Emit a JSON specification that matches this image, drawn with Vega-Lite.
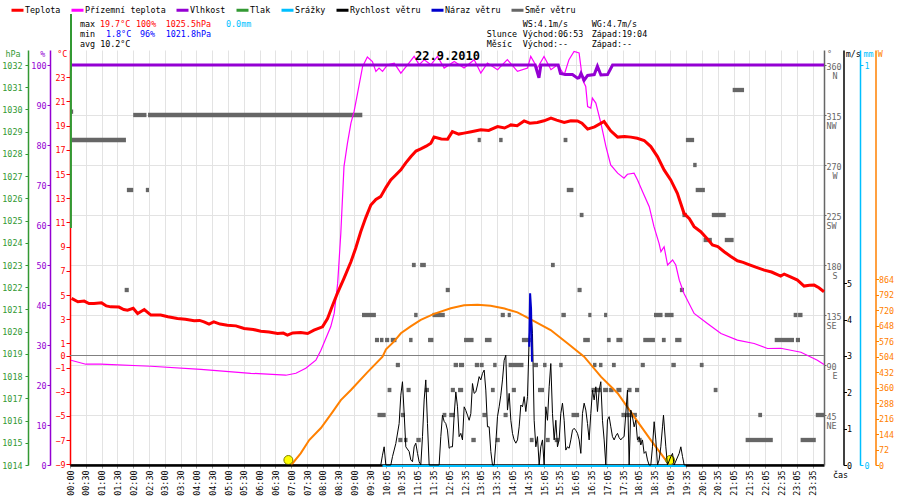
{
  "$schema": "https://vega.github.io/schema/vega-lite/v6.json",
  "width": 754,
  "height": 415,
  "autosize": "none",
  "padding": {"left": 70, "top": 50, "right": 76, "bottom": 35},
  "background": "white",
  "datasets": {
    "temp": [
      {"h":0.05,"t":4.72},{"h":0.25,"t":4.44},{"h":0.45,"t":4.5},{"h":0.6,"t":4.3},{"h":0.76,"t":4.3},{"h":1.0,"t":4.35},{"h":1.15,"t":4.1},{"h":1.29,"t":4.02},{"h":1.55,"t":4.0},{"h":1.7,"t":3.8},{"h":1.82,"t":3.75},{"h":2.0,"t":3.9},{"h":2.14,"t":3.47},{"h":2.35,"t":3.8},{"h":2.56,"t":3.34},{"h":2.87,"t":3.34},{"h":3.1,"t":3.2},{"h":3.4,"t":3.06},{"h":3.65,"t":3.0},{"h":3.93,"t":2.87},{"h":4.1,"t":2.9},{"h":4.24,"t":2.78},{"h":4.4,"t":2.59},{"h":4.55,"t":2.78},{"h":4.75,"t":2.6},{"h":4.98,"t":2.5},{"h":5.25,"t":2.45},{"h":5.51,"t":2.23},{"h":5.8,"t":2.15},{"h":6.04,"t":2.01},{"h":6.3,"t":1.95},{"h":6.57,"t":1.82},{"h":6.75,"t":1.85},{"h":6.88,"t":1.68},{"h":7.05,"t":1.87},{"h":7.3,"t":1.9},{"h":7.52,"t":1.82},{"h":7.72,"t":2.09},{"h":7.99,"t":2.37},{"h":8.15,"t":3.06},{"h":8.31,"t":4.16},{"h":8.46,"t":5.13},{"h":8.67,"t":6.37},{"h":8.89,"t":7.75},{"h":9.04,"t":8.86},{"h":9.2,"t":10.23},{"h":9.36,"t":11.4},{"h":9.52,"t":12.44},{"h":9.68,"t":12.9},{"h":9.83,"t":13.13},{"h":10.0,"t":13.9},{"h":10.15,"t":14.51},{"h":10.3,"t":14.9},{"h":10.47,"t":15.34},{"h":10.62,"t":15.9},{"h":10.79,"t":16.44},{"h":10.95,"t":16.9},{"h":11.1,"t":17.08},{"h":11.27,"t":17.3},{"h":11.42,"t":17.55},{"h":11.52,"t":18.05},{"h":11.75,"t":17.9},{"h":11.95,"t":17.88},{"h":12.1,"t":18.5},{"h":12.3,"t":18.3},{"h":12.47,"t":18.38},{"h":12.7,"t":18.5},{"h":13.0,"t":18.65},{"h":13.25,"t":18.6},{"h":13.53,"t":18.92},{"h":13.75,"t":18.8},{"h":13.95,"t":19.06},{"h":14.15,"t":19.0},{"h":14.37,"t":19.39},{"h":14.55,"t":19.2},{"h":14.79,"t":19.26},{"h":15.0,"t":19.4},{"h":15.22,"t":19.62},{"h":15.4,"t":19.45},{"h":15.64,"t":19.26},{"h":15.85,"t":19.4},{"h":16.06,"t":19.39},{"h":16.2,"t":19.2},{"h":16.38,"t":18.71},{"h":16.6,"t":18.9},{"h":16.9,"t":19.34},{"h":17.11,"t":18.57},{"h":17.33,"t":18.05},{"h":17.55,"t":18.1},{"h":17.75,"t":18.05},{"h":17.95,"t":17.95},{"h":18.17,"t":17.77},{"h":18.38,"t":17.27},{"h":18.59,"t":16.44},{"h":18.8,"t":15.34},{"h":19.01,"t":14.51},{"h":19.22,"t":13.41},{"h":19.43,"t":11.75},{"h":19.6,"t":11.3},{"h":19.75,"t":10.65},{"h":19.96,"t":10.23},{"h":20.15,"t":9.7},{"h":20.33,"t":9.13},{"h":20.5,"t":9.0},{"h":20.7,"t":8.58},{"h":20.9,"t":8.2},{"h":21.12,"t":7.83},{"h":21.3,"t":7.7},{"h":21.44,"t":7.56},{"h":21.7,"t":7.3},{"h":21.97,"t":7.06},{"h":22.2,"t":6.9},{"h":22.49,"t":6.56},{"h":22.6,"t":6.73},{"h":22.8,"t":6.5},{"h":23.02,"t":6.23},{"h":23.23,"t":5.74},{"h":23.4,"t":5.8},{"h":23.55,"t":5.82},{"h":23.7,"t":5.6},{"h":23.86,"t":5.27}
    ],
    "ground": [
      {"h":0.03,"t":-0.39},{"h":0.5,"t":-0.72},{"h":0.97,"t":-0.72},{"h":2.56,"t":-0.89},{"h":4.14,"t":-1.14},{"h":5.72,"t":-1.47},{"h":6.83,"t":-1.63},{"h":7.15,"t":-1.47},{"h":7.46,"t":-1.05},{"h":7.78,"t":-0.39},{"h":7.94,"t":0.44},{"h":8.25,"t":2.37},{"h":8.36,"t":3.48},{"h":8.47,"t":5.96},{"h":8.57,"t":10.1},{"h":8.67,"t":15.61},{"h":8.78,"t":17.55},{"h":8.89,"t":19.2},{"h":8.99,"t":20.17},{"h":9.1,"t":21.69},{"h":9.26,"t":23.89},{"h":9.41,"t":24.67},{"h":9.57,"t":24.3},{"h":9.68,"t":23.48},{"h":9.78,"t":23.76},{"h":9.89,"t":23.48},{"h":10.05,"t":24.03},{"h":10.26,"t":24.17},{"h":10.47,"t":23.34},{"h":10.68,"t":24.03},{"h":10.89,"t":24.72},{"h":11.05,"t":24.03},{"h":11.21,"t":24.45},{"h":11.42,"t":24.03},{"h":11.63,"t":24.72},{"h":11.84,"t":23.76},{"h":12.16,"t":24.3},{"h":12.47,"t":23.76},{"h":12.79,"t":24.45},{"h":13.0,"t":23.34},{"h":13.21,"t":24.17},{"h":13.53,"t":23.62},{"h":13.84,"t":24.45},{"h":14.16,"t":23.48},{"h":14.48,"t":23.76},{"h":14.58,"t":24.72},{"h":14.79,"t":23.76},{"h":15.0,"t":24.72},{"h":15.22,"t":23.62},{"h":15.43,"t":24.03},{"h":15.64,"t":23.2},{"h":15.79,"t":24.45},{"h":15.95,"t":25.13},{"h":16.11,"t":25.0},{"h":16.22,"t":22.79},{"h":16.32,"t":22.24},{"h":16.38,"t":20.58},{"h":16.48,"t":20.45},{"h":16.53,"t":21.27},{"h":16.64,"t":20.86},{"h":16.8,"t":19.2},{"h":16.96,"t":17.27},{"h":17.11,"t":15.75},{"h":17.33,"t":15.07},{"h":17.53,"t":14.65},{"h":17.64,"t":14.98},{"h":17.85,"t":15.07},{"h":17.96,"t":14.51},{"h":18.12,"t":13.54},{"h":18.33,"t":12.3},{"h":18.48,"t":10.65},{"h":18.64,"t":9.27},{"h":18.7,"t":8.58},{"h":18.8,"t":8.99},{"h":18.91,"t":7.48},{"h":19.07,"t":7.89},{"h":19.17,"t":7.48},{"h":19.28,"t":6.23},{"h":19.43,"t":5.13},{"h":19.75,"t":3.48},{"h":20.17,"t":2.65},{"h":20.6,"t":1.82},{"h":21.12,"t":1.27},{"h":21.65,"t":0.99},{"h":22.07,"t":0.58},{"h":22.49,"t":0.6},{"h":23.13,"t":0.27},{"h":23.65,"t":-0.39},{"h":23.86,"t":-0.75}
    ],
    "hum": [
      {"h":0,"p":100},{"h":14.72,"p":100},{"h":14.84,"p":96.8},{"h":14.9,"p":100},{"h":15.45,"p":100},{"h":15.52,"p":97.9},{"h":15.68,"p":97.6},{"h":15.9,"p":97.6},{"h":16.06,"p":96.7},{"h":16.11,"p":96.8},{"h":16.17,"p":97.9},{"h":16.27,"p":96.2},{"h":16.38,"p":97.4},{"h":16.59,"p":97.6},{"h":16.69,"p":99.7},{"h":16.8,"p":97.5},{"h":17.01,"p":97.6},{"h":17.17,"p":100},{"h":23.86,"p":100}
    ],
    "press": [{"h":0.03,"hpa":1024.67},{"h":0.031,"hpa":1034.3}],
    "rain": [{"h":9.89,"mm":0},{"h":19.49,"mm":0}],
    "wind": [
      {"h":0,"v":0},{"h":9.835,"v":0},{"h":9.888,"v":0.27},{"h":9.941,"v":0.5},{"h":9.994,"v":0},{"h":10.152,"v":0},{"h":10.205,"v":0.23},{"h":10.31,"v":0.59},{"h":10.416,"v":1.14},{"h":10.468,"v":1.92},{"h":10.521,"v":2.29},{"h":10.574,"v":1.42},{"h":10.627,"v":0.5},{"h":10.732,"v":0.37},{"h":10.785,"v":0.14},{"h":10.838,"v":0.09},{"h":10.89,"v":0.5},{"h":10.943,"v":0.6},{"h":10.996,"v":0.32},{"h":11.048,"v":0.09},{"h":11.101,"v":0},{"h":11.154,"v":0.78},{"h":11.207,"v":1.79},{"h":11.259,"v":2.34},{"h":11.312,"v":1.14},{"h":11.365,"v":0},{"h":11.681,"v":0},{"h":11.734,"v":0.78},{"h":11.787,"v":1.37},{"h":11.84,"v":1.2},{"h":11.892,"v":1.14},{"h":11.945,"v":0.96},{"h":11.998,"v":0.46},{"h":12.05,"v":0.5},{"h":12.103,"v":0.5},{"h":12.156,"v":1.37},{"h":12.209,"v":2.01},{"h":12.262,"v":1.6},{"h":12.314,"v":0.78},{"h":12.367,"v":0.87},{"h":12.42,"v":0.69},{"h":12.473,"v":1.6},{"h":12.525,"v":1.5},{"h":12.578,"v":1.37},{"h":12.631,"v":1.23},{"h":12.684,"v":1.41},{"h":12.736,"v":2.24},{"h":12.789,"v":1.97},{"h":12.842,"v":2.01},{"h":12.895,"v":2.2},{"h":12.947,"v":2.43},{"h":13.0,"v":2.34},{"h":13.053,"v":2.52},{"h":13.106,"v":2.61},{"h":13.158,"v":2.06},{"h":13.211,"v":1.05},{"h":13.264,"v":1.05},{"h":13.317,"v":0.37},{"h":13.369,"v":0},{"h":13.422,"v":0},{"h":13.475,"v":0.6},{"h":13.528,"v":1.33},{"h":13.58,"v":1.6},{"h":13.633,"v":1.92},{"h":13.686,"v":2.34},{"h":13.739,"v":2.88},{"h":13.791,"v":3.02},{"h":13.844,"v":1.51},{"h":13.897,"v":1.97},{"h":13.95,"v":1.23},{"h":14.002,"v":0.87},{"h":14.055,"v":0.69},{"h":14.108,"v":0.6},{"h":14.161,"v":0.69},{"h":14.213,"v":1.05},{"h":14.266,"v":1.65},{"h":14.319,"v":1.6},{"h":14.372,"v":1.88},{"h":14.424,"v":1.47},{"h":14.477,"v":1.88},{"h":14.53,"v":3.48},{"h":14.582,"v":4.26},{"h":14.635,"v":3.62},{"h":14.688,"v":1.23},{"h":14.741,"v":0.5},{"h":14.793,"v":0.78},{"h":14.846,"v":0},{"h":14.899,"v":0.5},{"h":14.952,"v":0.69},{"h":15.004,"v":0},{"h":15.057,"v":1.6},{"h":15.11,"v":1.23},{"h":15.163,"v":2.15},{"h":15.215,"v":2.79},{"h":15.268,"v":1.42},{"h":15.321,"v":0.69},{"h":15.374,"v":1.23},{"h":15.426,"v":0.5},{"h":15.479,"v":0.69},{"h":15.532,"v":1.42},{"h":15.584,"v":1.7},{"h":15.637,"v":1.23},{"h":15.69,"v":0.41},{"h":15.743,"v":0.5},{"h":15.795,"v":0.46},{"h":15.848,"v":0.69},{"h":15.901,"v":0.96},{"h":15.954,"v":1.01},{"h":16.006,"v":0.95},{"h":16.059,"v":0.87},{"h":16.112,"v":0.69},{"h":16.165,"v":0.32},{"h":16.217,"v":1.42},{"h":16.27,"v":1.7},{"h":16.323,"v":1.51},{"h":16.376,"v":1.14},{"h":16.428,"v":0.69},{"h":16.481,"v":1.42},{"h":16.534,"v":2.06},{"h":16.587,"v":1.79},{"h":16.639,"v":2.15},{"h":16.692,"v":1.47},{"h":16.745,"v":2.06},{"h":16.797,"v":2.29},{"h":16.85,"v":1.23},{"h":16.903,"v":0.69},{"h":16.956,"v":0},{"h":17.008,"v":1.24},{"h":17.061,"v":1.33},{"h":17.114,"v":1.05},{"h":17.166,"v":0.78},{"h":17.219,"v":0.69},{"h":17.272,"v":0.8},{"h":17.325,"v":0.87},{"h":17.377,"v":0.75},{"h":17.43,"v":0.69},{"h":17.483,"v":0.75},{"h":17.535,"v":0.78},{"h":17.588,"v":1.42},{"h":17.641,"v":2.06},{"h":17.694,"v":0},{"h":17.746,"v":1.51},{"h":17.799,"v":1.33},{"h":17.852,"v":1.05},{"h":17.905,"v":1.23},{"h":17.957,"v":0.69},{"h":18.01,"v":0.78},{"h":18.063,"v":0.55},{"h":18.116,"v":0.69},{"h":18.168,"v":0.32},{"h":18.221,"v":0.37},{"h":18.274,"v":0.14},{"h":18.327,"v":0},{"h":18.38,"v":0},{"h":18.432,"v":0.5},{"h":18.485,"v":1.19},{"h":18.538,"v":0.69},{"h":18.591,"v":0},{"h":18.643,"v":0.14},{"h":18.696,"v":0.5},{"h":18.749,"v":1.05},{"h":18.781,"v":1.37},{"h":18.855,"v":0.5},{"h":18.907,"v":0},{"h":19.013,"v":0.23},{"h":19.066,"v":0.32},{"h":19.118,"v":0},{"h":19.277,"v":0.32},{"h":19.33,"v":0.5},{"h":19.383,"v":0.23},{"h":19.435,"v":0},{"h":23.86,"v":0}
    ],
    "gust": [{"h":14.53,"v":3.25},{"h":14.56,"v":4.72},{"h":14.59,"v":4.3},{"h":14.62,"v":2.84}],
    "sun": [
      {"h":7.0,"w":0},{"h":7.3,"w":54},{"h":7.57,"w":116},{"h":7.94,"w":172},{"h":8.3,"w":245},{"h":8.57,"w":302},{"h":8.89,"w":349},{"h":9.4,"w":430},{"h":9.89,"w":504},{"h":10.0,"w":538},{"h":10.25,"w":574},{"h":10.47,"w":613},{"h":10.78,"w":645},{"h":11.1,"w":675},{"h":11.52,"w":703},{"h":12.05,"w":729},{"h":12.47,"w":743},{"h":12.9,"w":746},{"h":13.31,"w":741},{"h":13.75,"w":728},{"h":14.16,"w":710},{"h":14.58,"w":678},{"h":15.21,"w":628},{"h":15.75,"w":565},{"h":16.27,"w":504},{"h":16.8,"w":411},{"h":17.33,"w":334},{"h":17.85,"w":225},{"h":18.38,"w":116},{"h":18.91,"w":11},{"h":18.95,"w":0}
    ],
    "sunev": [{"h":6.91,"ev":"Východ"},{"h":18.99,"ev":"Západ"}],
    "dir": [
      {"from":0.0,"to":0.1,"deg":318},{"from":0.05,"to":1.77,"deg":292.5},{"from":1.73,"to":1.86,"deg":157.5},{"from":1.8,"to":2.0,"deg":247.5},{"from":2.0,"to":2.42,"deg":315},{"from":2.4,"to":2.5,"deg":247.5},{"from":2.47,"to":9.25,"deg":315},
      {"from":9.24,"to":9.68,"deg":135},{"from":9.65,"to":9.78,"deg":112.5},{"from":9.81,"to":9.92,"deg":112.5},{"from":9.97,"to":10.1,"deg":112.5},{"from":10.15,"to":10.33,"deg":112.5},{"from":9.73,"to":9.99,"deg":45},{"from":10.05,"to":10.17,"deg":67.5},{"from":10.31,"to":10.44,"deg":90},{"from":10.39,"to":10.52,"deg":22.5},{"from":10.57,"to":10.68,"deg":22.5},{"from":10.47,"to":10.6,"deg":45},{"from":10.65,"to":10.78,"deg":67.5},{"from":10.73,"to":10.84,"deg":112.5},{"from":10.82,"to":10.94,"deg":180},{"from":10.89,"to":11.0,"deg":135},{"from":10.96,"to":11.1,"deg":22.5},{"from":11.08,"to":11.26,"deg":180},{"from":11.23,"to":11.36,"deg":67.5},{"from":11.33,"to":11.5,"deg":112.5},{"from":11.47,"to":11.86,"deg":135},{"from":11.79,"to":11.91,"deg":45},{"from":11.89,"to":12.02,"deg":157.5},{"from":12.0,"to":12.18,"deg":45},{"from":12.05,"to":12.18,"deg":67.5},{"from":12.14,"to":12.28,"deg":90},{"from":12.31,"to":12.47,"deg":90},{"from":12.28,"to":12.44,"deg":67.5},{"from":12.47,"to":12.77,"deg":112.5},{"from":12.7,"to":12.84,"deg":22.5},{"from":12.81,"to":12.95,"deg":90},{"from":12.97,"to":13.09,"deg":90},{"from":12.9,"to":13.0,"deg":292.5},{"from":13.05,"to":13.18,"deg":45},{"from":13.13,"to":13.34,"deg":112.5},{"from":13.32,"to":13.44,"deg":67.5},{"from":13.39,"to":13.5,"deg":90},{"from":13.47,"to":13.6,"deg":22.5},{"from":13.58,"to":13.69,"deg":292.5},{"from":13.63,"to":13.76,"deg":135},{"from":13.72,"to":13.85,"deg":45},{"from":13.85,"to":13.95,"deg":135},{"from":13.88,"to":14.35,"deg":90},{"from":13.98,"to":14.11,"deg":67.5},{"from":14.3,"to":14.58,"deg":112.5},{"from":14.55,"to":14.67,"deg":22.5},{"from":14.67,"to":14.81,"deg":90},{"from":14.81,"to":15.0,"deg":67.5},{"from":14.97,"to":15.08,"deg":90},{"from":15.06,"to":15.18,"deg":22.5},{"from":15.22,"to":15.34,"deg":180},{"from":15.34,"to":15.48,"deg":22.5},{"from":15.48,"to":15.59,"deg":90},{"from":15.55,"to":15.69,"deg":135},{"from":15.62,"to":15.74,"deg":292.5},{"from":15.72,"to":15.93,"deg":247.5},{"from":15.87,"to":16.11,"deg":45},{"from":16.06,"to":16.19,"deg":157.5},{"from":16.13,"to":16.25,"deg":225},{"from":16.24,"to":16.45,"deg":112.5},{"from":16.4,"to":16.5,"deg":135},{"from":16.5,"to":16.8,"deg":67.5},{"from":16.55,"to":16.66,"deg":90},{"from":16.74,"to":16.85,"deg":90},{"from":16.87,"to":17.03,"deg":67.5},{"from":16.9,"to":17.0,"deg":135},{"from":16.99,"to":17.11,"deg":112.5},{"from":17.06,"to":17.2,"deg":67.5},{"from":17.15,"to":17.27,"deg":90},{"from":17.29,"to":17.48,"deg":112.5},{"from":17.29,"to":17.45,"deg":67.5},{"from":17.45,"to":17.8,"deg":45},{"from":17.64,"to":17.77,"deg":67.5},{"from":17.73,"to":17.94,"deg":45},{"from":17.88,"to":18.01,"deg":67.5},{"from":17.96,"to":18.09,"deg":22.5},{"from":18.06,"to":18.19,"deg":90},{"from":18.14,"to":18.51,"deg":112.5},{"from":18.48,"to":18.75,"deg":135},{"from":18.73,"to":18.85,"deg":112.5},{"from":18.82,"to":19.1,"deg":135},{"from":19.03,"to":19.17,"deg":90},{"from":19.15,"to":19.35,"deg":112.5},{"from":19.3,"to":19.43,"deg":157.5},{"from":19.38,"to":19.52,"deg":225},{"from":19.49,"to":19.75,"deg":292.5},{"from":19.72,"to":19.83,"deg":270},{"from":19.8,"to":20.09,"deg":247.5},{"from":19.93,"to":20.05,"deg":90},{"from":20.05,"to":20.31,"deg":202.5},{"from":20.31,"to":20.75,"deg":225},{"from":20.37,"to":20.49,"deg":67.5},{"from":20.72,"to":21.0,"deg":202.5},{"from":20.97,"to":21.33,"deg":337.5},{"from":21.38,"to":22.24,"deg":22.5},{"from":21.78,"to":21.9,"deg":45},{"from":22.3,"to":22.91,"deg":112.5},{"from":22.9,"to":23.02,"deg":135},{"from":22.97,"to":23.1,"deg":112.5},{"from":23.04,"to":23.18,"deg":135},{"from":23.12,"to":23.6,"deg":22.5},{"from":23.6,"to":23.86,"deg":45}
    ]
  },
  "layer": [
    {
      "data": {"name": "dir"},
      "mark": {"type": "rule", "strokeWidth": 4.3, "strokeCap": "butt"},
      "encoding": {
        "x": {
          "field": "from", "type": "quantitative",
          "scale": {"domain": [0, 23.86], "nice": false, "zero": false},
          "axis": {
            "values": [0,0.5,1,1.5,2,2.5,3,3.5,4,4.5,5,5.5,6,6.5,7,7.5,8,8.5,9,9.5,10,10.5,11,11.5,12,12.5,13,13.5,14,14.5,15,15.5,16,16.5,17,17.5,18,18.5,19,19.5,20,20.5,21,21.5,22,22.5,23,23.5],
            "tickCount": 200,
            "labelExpr": "datum.value < 10 ? '0' + floor(datum.value) + ':' + (datum.value % 1 > 0.25 ? '30' : '00') : floor(datum.value) + ':' + (datum.value % 1 > 0.25 ? '35' : '05')",
            "labelAngle": 270, "labelAlign": "right", "labelBaseline": "middle",
            "labelOverlap": false, "labelFlush": false,
            "grid": true, "gridColor": "#e3e3e3",
            "domainColor": "#000000", "domainWidth": 2.5,
            "tickColor": "#999999", "tickSize": 3, "labelPadding": 2, "labelColor": "#000000",
            "title": "čas", "titleX": 770, "titleY": 9, "titleAlign": "center", "titleBaseline": "middle", "titleColor": "#000000"
          }
        },
        "x2": {"field": "to"},
        "y": {
          "field": "deg", "type": "quantitative",
          "scale": {"domain": [0, 373.5], "nice": false, "zero": false},
          "axis": {
            "orient": "right", "offset": 0,
            "values": [45, 90, 135, 180, 225, 270, 315, 360], "tickCount": 200, "format": "d",
            "labelOverlap": false, "labelFlush": false,
            "grid": true, "gridColor": "#e3e3e3",
            "domainColor": "#666666", "tickColor": "#666666", "labelColor": "#666666",
            "tickSize": 2, "labelPadding": 0, "labelAlign": "left", "labelBaseline": "top",
            "labelOffset": -2.5, "labelLineHeight": 9,
            "labelExpr": "[datum.label, datum.value == 360 ? '\u2800N' : datum.value == 315 ? 'NW' : datum.value == 270 ? '\u2800W' : datum.value == 225 ? 'SW' : datum.value == 180 ? '\u2800S' : datum.value == 135 ? 'SE' : datum.value == 90 ? '\u2800E' : 'NE']",
            "title": "°", "titleColor": "#666666", "titleAngle": 0, "titleX": 5, "titleY": 3.5, "titleAlign": "center", "titleBaseline": "middle"
          }
        },
        "color": {
          "datum": "Směr větru", "type": "nominal",
          "scale": {
            "domain": ["Teplota", "Přízemní teplota", "Vlhkost", "Tlak", "Srážky", "Rychlost větru", "Náraz větru", "Směr větru"],
            "range": ["#ff0000", "#ff00ff", "#9400d3", "#339933", "#00bfff", "#000000", "#0000cc", "#666666"]
          },
          "legend": {
            "orient": "none", "legendX": -60, "legendY": -47.5, "direction": "horizontal",
            "title": null, "symbolType": "stroke", "symbolSize": 144, "symbolStrokeWidth": 3,
            "labelFont": "DejaVu Sans Mono", "labelFontSize": 8.4, "labelColor": "#000000",
            "labelOffset": 0, "columnPadding": 4, "padding": 0
          }
        }
      }
    },
    {
      "layer": [
        {
          "data": {"values": [{}]},
          "mark": {"type": "rule", "color": "#808080", "strokeWidth": 1},
          "encoding": {"y": {"datum": 0, "type": "quantitative"}}
        },
        {
          "data": {"name": "ground"},
          "mark": {"type": "line", "strokeWidth": 1.2},
          "encoding": {
            "x": {"field": "h", "type": "quantitative"},
            "y": {
              "field": "t", "type": "quantitative",
              "scale": {"domain": [-9.05, 25.25], "nice": false, "zero": false},
              "axis": {
                "orient": "left", "offset": 0,
                "values": [-9, -7, -5, -3, -1, 0, 1, 3, 5, 7, 9, 11, 13, 15, 17, 19, 21, 23], "tickCount": 200, "format": "d",
                "labelOverlap": false, "labelFlush": false,
                "domainColor": "#ff0000", "tickColor": "#ff0000", "labelColor": "#ff0000",
                "tickSize": 4, "labelPadding": 1,
                "title": "°C", "titleColor": "#ff0000", "titleAngle": 0, "titleX": -8.3, "titleY": 3.5, "titleAlign": "center", "titleBaseline": "middle"
              }
            },
            "color": {"datum": "Přízemní teplota", "type": "nominal"}
          }
        },
        {
          "data": {"name": "temp"},
          "mark": {"type": "line", "strokeWidth": 3},
          "encoding": {
            "x": {"field": "h", "type": "quantitative"},
            "y": {"field": "t", "type": "quantitative"},
            "color": {"datum": "Teplota", "type": "nominal"}
          }
        }
      ]
    },
    {
      "data": {"name": "hum"},
      "mark": {"type": "line", "strokeWidth": 3},
      "encoding": {
        "x": {"field": "h", "type": "quantitative"},
        "y": {
          "field": "p", "type": "quantitative",
          "scale": {"domain": [0, 103.75], "nice": false, "zero": false},
          "axis": {
            "orient": "left", "offset": 20,
            "values": [0, 10, 20, 30, 40, 50, 60, 70, 80, 90, 100], "tickCount": 200, "format": "d",
            "labelOverlap": false, "labelFlush": false,
            "domainColor": "#9400d3", "tickColor": "#9400d3", "labelColor": "#9400d3",
            "tickSize": 3, "labelPadding": 1,
            "title": "%", "titleColor": "#9400d3", "titleAngle": 0, "titleX": -7.8, "titleY": 3.5, "titleAlign": "center", "titleBaseline": "middle"
          }
        },
        "color": {"datum": "Vlhkost", "type": "nominal"}
      }
    },
    {
      "data": {"name": "press"},
      "mark": {"type": "line", "strokeWidth": 2},
      "encoding": {
        "x": {"field": "h", "type": "quantitative"},
        "y": {
          "field": "hpa", "type": "quantitative",
          "scale": {"domain": [1014, 1032.675], "nice": false, "zero": false},
          "axis": {
            "orient": "left", "offset": 42,
            "values": [1014, 1015, 1016, 1017, 1018, 1019, 1020, 1021, 1022, 1023, 1024, 1025, 1026, 1027, 1028, 1029, 1030, 1031, 1032], "tickCount": 200,
            "format": "d", "labelOverlap": false, "labelFlush": false,
            "domainColor": "#339933", "tickColor": "#339933", "labelColor": "#339933",
            "tickSize": 3, "labelPadding": 3,
            "title": "hPa", "titleColor": "#339933", "titleAngle": 0, "titleX": -15.5, "titleY": 3.5, "titleAlign": "center", "titleBaseline": "middle"
          }
        },
        "color": {"datum": "Tlak", "type": "nominal"}
      }
    },
    {
      "layer": [
        {
          "data": {"name": "sun"},
          "mark": {"type": "line", "color": "#ff8000", "strokeWidth": 2},
          "encoding": {
            "x": {"field": "h", "type": "quantitative"},
            "y": {
              "field": "w", "type": "quantitative",
              "scale": {"domain": [0, 1931], "nice": false, "zero": false},
              "axis": {
                "orient": "right", "offset": 51.5,
                "values": [0, 72, 144, 216, 288, 360, 432, 504, 576, 648, 720, 792, 864], "tickCount": 200,
                "format": "d", "labelOverlap": false, "labelFlush": false,
                "domainColor": "#ff8000", "tickColor": "#ff8000", "labelColor": "#ff8000",
                "tickSize": 3, "labelPadding": 0,
                "title": "W", "titleColor": "#ff8000", "titleAngle": 0, "titleX": 4.2, "titleY": 3.5, "titleAlign": "center", "titleBaseline": "middle"
              }
            }
          }
        },
        {
          "data": {"name": "sunev"},
          "mark": {"type": "point", "shape": "circle", "filled": true, "fill": "#ffff00", "stroke": "#7f7f00", "strokeWidth": 1, "size": 80, "opacity": 1, "yOffset": -5},
          "encoding": {
            "x": {"field": "h", "type": "quantitative"},
            "y": {"datum": 0, "type": "quantitative"}
          }
        }
      ]
    },
    {
      "data": {"name": "rain"},
      "mark": {"type": "line", "strokeWidth": 2, "yOffset": 1},
      "encoding": {
        "x": {"field": "h", "type": "quantitative"},
        "y": {
          "field": "mm", "type": "quantitative",
          "scale": {"domain": [0, 1.0375], "nice": false, "zero": false},
          "axis": {
            "orient": "right", "offset": 36,
            "values": [0, 1], "tickCount": 200, "format": "d", "labelOverlap": false, "labelFlush": false,
            "domainColor": "#00bfff", "tickColor": "#00bfff", "labelColor": "#00bfff",
            "tickSize": 3, "labelPadding": 1,
            "title": "mm", "titleColor": "#00bfff", "titleAngle": 0, "titleX": 8, "titleY": 3.5, "titleAlign": "center", "titleBaseline": "middle"
          }
        },
        "color": {"datum": "Srážky", "type": "nominal"}
      }
    },
    {
      "layer": [
        {
          "data": {"name": "wind"},
          "mark": {"type": "line", "strokeWidth": 1},
          "encoding": {
            "x": {"field": "h", "type": "quantitative"},
            "y": {
              "field": "v", "type": "quantitative",
              "scale": {"domain": [0, 11.4125], "nice": false, "zero": false},
              "axis": {
                "orient": "right", "offset": 19.5,
                "values": [0, 1, 2, 3, 4, 5], "tickCount": 200, "format": "d", "labelOverlap": false, "labelFlush": false,
                "domainColor": "#000000", "tickColor": "#000000", "labelColor": "#000000",
                "tickSize": 3, "labelPadding": 0,
                "title": "m/s", "titleColor": "#000000", "titleAngle": 0, "titleX": 9.3, "titleY": 3.5, "titleAlign": "center", "titleBaseline": "middle"
              }
            },
            "color": {"datum": "Rychlost větru", "type": "nominal"}
          }
        },
        {
          "data": {"name": "gust"},
          "mark": {"type": "line", "strokeWidth": 2},
          "encoding": {
            "x": {"field": "h", "type": "quantitative"},
            "y": {"field": "v", "type": "quantitative"},
            "color": {"datum": "Náraz větru", "type": "nominal"}
          }
        }
      ]
    },
    {
      "data": {"values": [{}]},
      "layer": [
        {
          "mark": {"type": "text", "color": "#000000"},
          "encoding": {
            "x": {"datum": 0.316, "type": "quantitative"},
            "y": {"datum": 109.425, "type": "quantitative", "scale": {"domain": [0, 103.75], "nice": false, "zero": false}, "axis": null},
            "text": {"value": "max"}
          }
        },
        {
          "mark": {"type": "text", "color": "#ff0000"},
          "encoding": {"x": {"datum": 0.949, "type": "quantitative"}, "y": {"datum": 109.425, "type": "quantitative", "axis": null}, "text": {"value": "19.7°C"}}
        },
        {
          "mark": {"type": "text", "color": "#ff0000"},
          "encoding": {"x": {"datum": 2.089, "type": "quantitative"}, "y": {"datum": 109.425, "type": "quantitative", "axis": null}, "text": {"value": "100%"}}
        },
        {
          "mark": {"type": "text", "color": "#ff0000"},
          "encoding": {"x": {"datum": 3.028, "type": "quantitative"}, "y": {"datum": 109.425, "type": "quantitative", "axis": null}, "text": {"value": "1025.5hPa"}}
        },
        {
          "mark": {"type": "text", "color": "#00bfff"},
          "encoding": {"x": {"datum": 4.937, "type": "quantitative"}, "y": {"datum": 109.425, "type": "quantitative", "axis": null}, "text": {"value": "0.0mm"}}
        },
        {
          "mark": {"type": "text", "color": "#000000"},
          "encoding": {"x": {"datum": 0.316, "type": "quantitative"}, "y": {"datum": 106.925, "type": "quantitative", "axis": null}, "text": {"value": "min"}}
        },
        {
          "mark": {"type": "text", "color": "#0000ff"},
          "encoding": {"x": {"datum": 1.139, "type": "quantitative"}, "y": {"datum": 106.925, "type": "quantitative", "axis": null}, "text": {"value": "1.8°C"}}
        },
        {
          "mark": {"type": "text", "color": "#0000ff"},
          "encoding": {"x": {"datum": 2.215, "type": "quantitative"}, "y": {"datum": 106.925, "type": "quantitative", "axis": null}, "text": {"value": "96%"}}
        },
        {
          "mark": {"type": "text", "color": "#0000ff"},
          "encoding": {"x": {"datum": 3.028, "type": "quantitative"}, "y": {"datum": 106.925, "type": "quantitative", "axis": null}, "text": {"value": "1021.8hPa"}}
        },
        {
          "mark": {"type": "text", "color": "#000000"},
          "encoding": {"x": {"datum": 0.316, "type": "quantitative"}, "y": {"datum": 104.5, "type": "quantitative", "axis": null}, "text": {"value": "avg 10.2°C"}}
        },
        {
          "mark": {"type": "text", "color": "#000000"},
          "encoding": {"x": {"datum": 14.326, "type": "quantitative"}, "y": {"datum": 109.425, "type": "quantitative", "axis": null}, "text": {"value": "WS:4.1m/s"}}
        },
        {
          "mark": {"type": "text", "color": "#000000"},
          "encoding": {"x": {"datum": 16.51, "type": "quantitative"}, "y": {"datum": 109.425, "type": "quantitative", "axis": null}, "text": {"value": "WG:4.7m/s"}}
        },
        {
          "mark": {"type": "text", "color": "#000000"},
          "encoding": {"x": {"datum": 13.187, "type": "quantitative"}, "y": {"datum": 106.925, "type": "quantitative", "axis": null}, "text": {"value": "Slunce"}}
        },
        {
          "mark": {"type": "text", "color": "#000000"},
          "encoding": {"x": {"datum": 14.326, "type": "quantitative"}, "y": {"datum": 106.925, "type": "quantitative", "axis": null}, "text": {"value": "Východ:06:53"}}
        },
        {
          "mark": {"type": "text", "color": "#000000"},
          "encoding": {"x": {"datum": 16.51, "type": "quantitative"}, "y": {"datum": 106.925, "type": "quantitative", "axis": null}, "text": {"value": "Západ:19:04"}}
        },
        {
          "mark": {"type": "text", "color": "#000000"},
          "encoding": {"x": {"datum": 13.187, "type": "quantitative"}, "y": {"datum": 104.5, "type": "quantitative", "axis": null}, "text": {"value": "Měsíc"}}
        },
        {
          "mark": {"type": "text", "color": "#000000"},
          "encoding": {"x": {"datum": 14.326, "type": "quantitative"}, "y": {"datum": 104.5, "type": "quantitative", "axis": null}, "text": {"value": "Východ:--"}}
        },
        {
          "mark": {"type": "text", "color": "#000000"},
          "encoding": {"x": {"datum": 16.51, "type": "quantitative"}, "y": {"datum": 104.5, "type": "quantitative", "axis": null}, "text": {"value": "Západ:--"}}
        },
        {
          "mark": {"type": "text", "align": "center", "fontSize": 12, "fontWeight": "bold", "color": "#000000"},
          "encoding": {"x": {"datum": 11.946, "type": "quantitative"}, "y": {"datum": 101.25, "type": "quantitative", "axis": null}, "text": {"value": "22.9.2010"}}
        }
      ]
    }
  ],
  "resolve": {"scale": {"y": "independent"}},
  "config": {
    "view": {"stroke": null},
    "font": "DejaVu Sans Mono",
    "text": {"font": "DejaVu Sans Mono", "fontSize": 8.4, "align": "left", "baseline": "alphabetic"},
    "axis": {
      "labelFont": "DejaVu Sans Mono", "labelFontSize": 8.4,
      "titleFont": "DejaVu Sans Mono", "titleFontSize": 8.4, "titleFontWeight": "normal",
      "grid": false, "labelFlush": false, "domainWidth": 1.5
    }
  }
}
